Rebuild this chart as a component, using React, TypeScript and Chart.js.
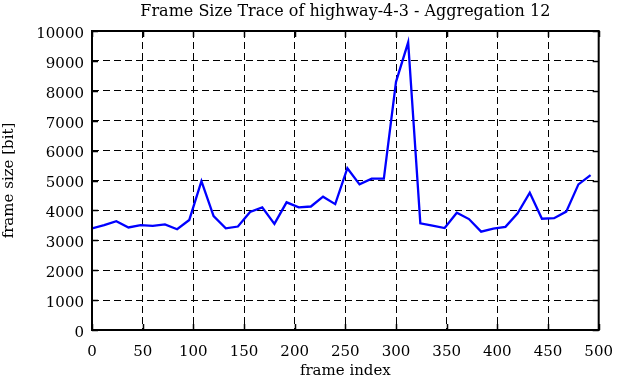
import React, { useEffect, useRef } from 'react';
import { Chart, registerables } from 'chart.js';

Chart.register(...registerables);

const FONT = "'DejaVu Serif', 'Liberation Serif', serif";

const chartTitle = 'Frame Size Trace of highway-4-3 - Aggregation 12';
const xAxisTitle = 'frame index';
const yAxisTitle = 'frame size [bit]';

const frameIndex = [
  0, 12, 24, 36, 48, 60, 72, 84, 96, 108,
  120, 132, 144, 156, 168, 180, 192, 204, 216, 228,
  240, 252, 264, 276, 288, 300, 312, 324, 336, 348,
  360, 372, 384, 396, 408, 420, 432, 444, 456, 468,
  480, 492,
];

const frameSize = [
  3400, 3510, 3640, 3430, 3510, 3480, 3530, 3370, 3680, 4980,
  3810, 3400, 3460, 3950, 4100, 3550, 4270, 4100, 4130, 4460,
  4210, 5410, 4870, 5060, 5060, 8300, 9620, 3570, 3490, 3410,
  3920, 3710, 3290, 3390, 3450, 3900, 4590, 3720, 3740, 3960,
  4870, 5180,
];

const xMin = 0;
const xMax = 500;
const xStep = 50;
const yMin = 0;
const yMax = 10000;
const yStep = 1000;

const framePlugin = {
  id: 'gnuplotFrame',
  afterDraw(chart: any) {
    const { ctx, chartArea } = chart;
    const { left, top, right, bottom } = chartArea;
    const xs = chart.scales.x;
    const ys = chart.scales.y;
    ctx.save();
    ctx.setLineDash([]);
    ctx.strokeStyle = '#000';
    ctx.lineWidth = 1.5;
    const tl = 6;
    ctx.beginPath();
    xs.ticks.forEach((t: any) => {
      const px = Math.round(xs.getPixelForValue(t.value)) + 0.5;
      ctx.moveTo(px, bottom);
      ctx.lineTo(px, bottom - tl);
      ctx.moveTo(px, top);
      ctx.lineTo(px, top + tl);
    });
    ys.ticks.forEach((t: any) => {
      const py = Math.round(ys.getPixelForValue(t.value)) + 0.5;
      ctx.moveTo(left, py);
      ctx.lineTo(left + tl, py);
      ctx.moveTo(right, py);
      ctx.lineTo(right - tl, py);
    });
    ctx.stroke();
    ctx.lineWidth = 2;
    ctx.strokeRect(left, top, right - left, bottom - top);

    // chart title, centred over the plot area
    ctx.fillStyle = '#000';
    ctx.font = `16px ${FONT}`;
    ctx.textAlign = 'center';
    ctx.textBaseline = 'middle';
    ctx.fillText(chartTitle, (left + right) / 2, 12);
    ctx.restore();
  },
};

export default function App() {
  const canvasRef = useRef<HTMLCanvasElement | null>(null);

  useEffect(() => {
    document.body.style.margin = '0';
    const canvas = canvasRef.current;
    if (!canvas) return;
    const points = frameIndex.map((x, i) => ({ x, y: frameSize[i] }));
    const chart = new Chart(canvas, {
      type: 'line',
      data: {
        datasets: [
          {
            data: points,
            borderColor: '#0000ff',
            backgroundColor: '#0000ff',
            borderWidth: 2.3,
            pointRadius: 0,
            tension: 0,
            fill: false,
          },
        ],
      },
      options: {
        responsive: false,
        animation: false,
        layout: { padding: { left: 0, right: 16, top: 31, bottom: 0 } },
        plugins: {
          legend: { display: false },
          tooltip: { enabled: false },
          title: { display: false },
        },
        scales: {
          x: {
            type: 'linear',
            min: xMin,
            max: xMax,
            afterFit: (scale: any) => {
              scale.height = 52;
            },
            ticks: {
              stepSize: xStep,
              color: '#000',
              padding: 13,
              maxRotation: 0,
              font: { family: FONT, size: 15 },
              callback: (v: any) => String(v),
            },
            grid: {
              color: '#000',
              lineWidth: 1,
              drawTicks: false,
            },
            border: { display: false, dash: [7, 4] },
            title: {
              display: true,
              text: xAxisTitle,
              color: '#000',
              font: { family: FONT, size: 15 },
              padding: { top: 0, bottom: 2 },
            },
          },
          y: {
            type: 'linear',
            min: yMin,
            max: yMax,
            afterFit: (scale: any) => {
              scale.width = 92;
            },
            ticks: {
              stepSize: yStep,
              color: '#000',
              padding: 8,
              labelOffset: 3,
              font: { family: FONT, size: 15 },
              callback: (v: any) => String(v),
            },
            grid: {
              color: '#000',
              lineWidth: 1,
              drawTicks: false,
            },
            border: { display: false, dash: [7, 4] },
            title: {
              display: true,
              text: yAxisTitle,
              color: '#000',
              font: { family: FONT, size: 15 },
              padding: { top: 0, bottom: 0 },
            },
          },
        },
      },
      plugins: [framePlugin],
    } as any);
    return () => chart.destroy();
  }, []);

  return (
    <div style={{ width: 626, height: 382 }}>
      <canvas ref={canvasRef} width={626} height={382} style={{ display: 'block' }} />
    </div>
  );
}
